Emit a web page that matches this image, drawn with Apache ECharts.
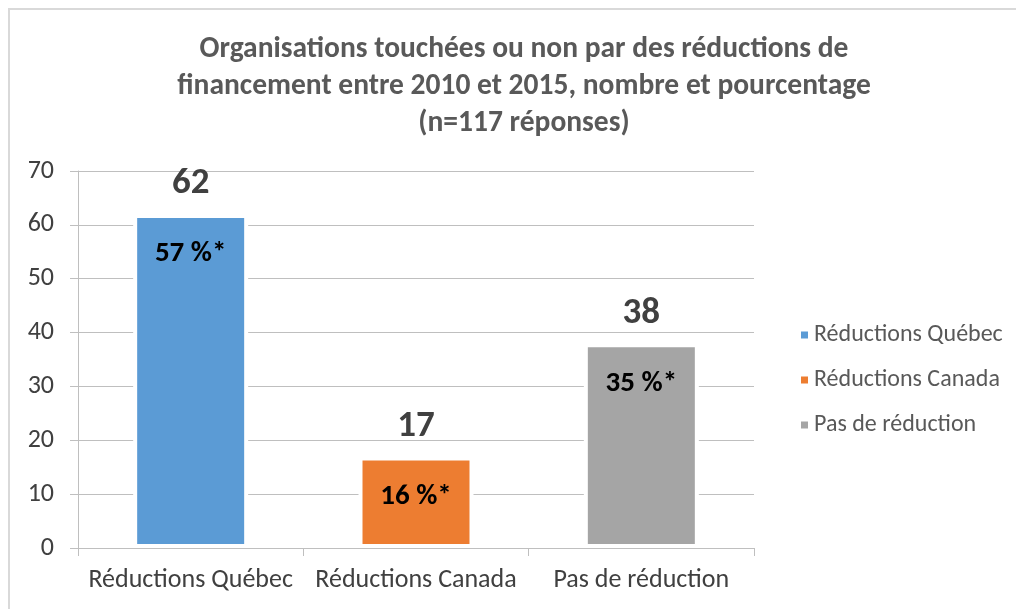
<!DOCTYPE html>
<html>
<head>
<meta charset="utf-8">
<script src="https://cdn.jsdelivr.net/npm/echarts@6/dist/echarts.min.js"></script>
<style>
  html, body { margin: 0; padding: 0; background: #fff; }
  #chart { position: absolute; left: 0; top: 0; width: 1016px; height: 609px; }
  #frame { position: absolute; left: 8px; top: 8px; width: 2000px; height: 2000px;
           border-left: 2px solid #d9d9d9; border-top: 2px solid #d9d9d9; pointer-events: none; }
</style>
</head>
<body>
<div id="chart"></div>
<div id="frame"></div>
<script>
// data
var categories = ['Réductions Québec', 'Réductions Canada', 'Pas de réduction'];
var counts = [62, 17, 38];
var percents = ['57 %*', '16 %*', '35 %*'];
var yTicks = [0, 10, 20, 30, 40, 50, 60, 70];

var barColors = ['#5b9bd5', '#ed7d31', '#a5a5a5'];
var font = "Carlito, 'Liberation Sans Narrow', Roboto, sans-serif";

// one series per category so the legend shows each bar
var series = categories.map(function (name, i) {
	return {
		name: name,
		type: 'bar',
		stack: 'all',
		barWidth: 115,
		data: counts.map(function (v, j) { return j === i ? v : '-'; }),
		itemStyle: { color: barColors[i], borderColor: '#fff', borderWidth: 4 },
		label: {
			show: true,
			position: 'insideTop',
			distance: 0,
			offset: [0, -60],
			formatter: function (p) { return '{c|' + p.value + '}\n{p|' + percents[p.dataIndex] + '}'; },
			rich: {
				c: { fontFamily: font, fontSize: 37, fontWeight: 'bold', color: '#404040', lineHeight: 60 },
				p: { fontFamily: font, fontSize: 29, fontWeight: 'bold', color: '#000', lineHeight: 80 }
			}
		}
	};
});

var chart = echarts.init(document.getElementById('chart'));
chart.setOption({
	animation: false,
	title: {
		text: 'Organisations touchées ou non par des réductions de\nfinancement entre 2010 et 2015, nombre et pourcentage\n(n=117 réponses)',
		left: 519,
		top: 26,
		textAlign: 'center',
		textStyle: { fontFamily: font, fontSize: 29.5, fontWeight: 'bold', color: '#595959', lineHeight: 37 }
	},
	legend: {
		orient: 'vertical',
		left: 794,
		top: 318,
		icon: 'rect',
		itemWidth: 9,
		itemHeight: 9,
		itemGap: 21,
		data: categories,
		textStyle: { fontFamily: font, fontSize: 24, color: '#595959' }
	},
	grid: { left: 78, right: 262, top: 171, bottom: 61 },
	xAxis: {
		type: 'category',
		data: categories,
		z: 5,
		axisLine: { lineStyle: { color: '#bfbfbf', width: 1 } },
		axisTick: { show: true, length: 8, lineStyle: { color: '#bfbfbf' } },
		axisLabel: { interval: 0, hideOverlap: false, fontFamily: font, fontSize: 26, color: '#404040', margin: 19 }
	},
	yAxis: {
		type: 'value',
		min: yTicks[0],
		max: yTicks[yTicks.length - 1],
		interval: 10,
		axisLine: { show: true, lineStyle: { color: '#bfbfbf', width: 1 } },
		axisTick: { show: true, length: 8, lineStyle: { color: '#bfbfbf' } },
		axisLabel: { fontFamily: font, fontSize: 26, color: '#404040', margin: 24 },
		splitLine: { lineStyle: { color: '#bfbfbf', width: 1 } }
	},
	series: series
});
</script>
</body>
</html>
